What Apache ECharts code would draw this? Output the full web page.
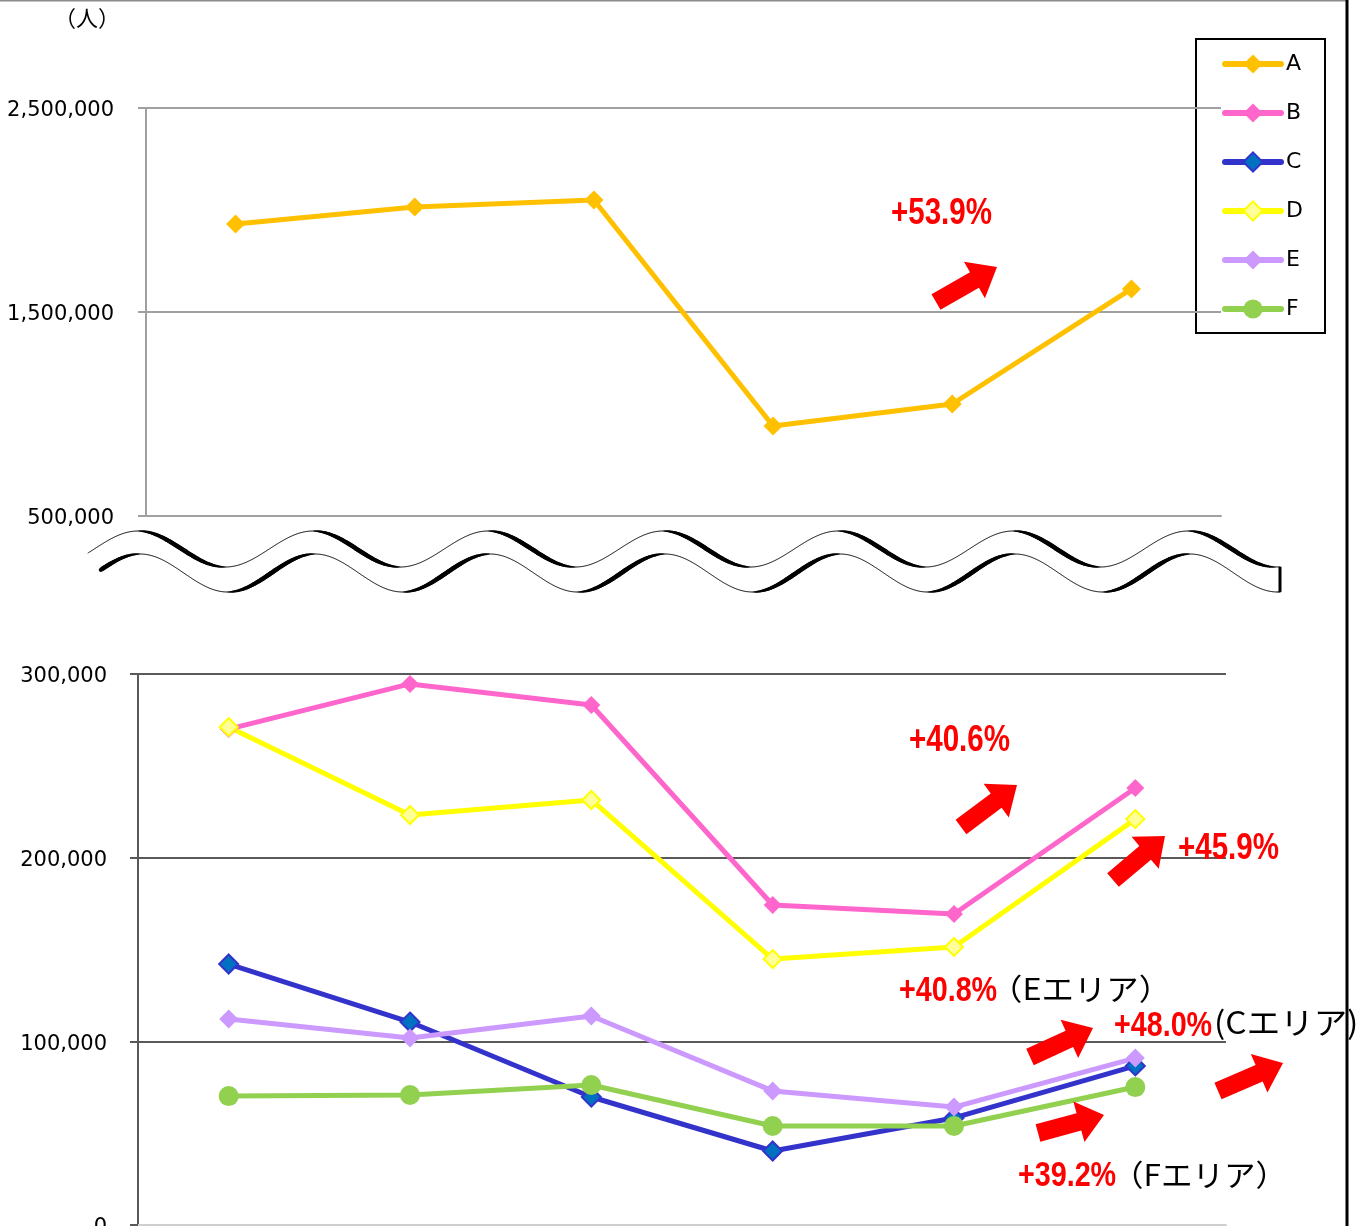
<!DOCTYPE html>
<html><head><meta charset="utf-8">
<script src="https://cdn.jsdelivr.net/npm/echarts@6/dist/echarts.min.js"></script>
<style>html,body{margin:0;padding:0;background:#fff;overflow:hidden}#c{width:1365px;height:1226px}</style>
</head><body><div id="c"></div>
<script>
// ---- data ----
const categories = ['1', '2', '3', '4', '5', '6'];
const seriesNames = ['A', 'B', 'C', 'D', 'E', 'F'];
const valuesA = [1931000, 2015000, 2049000, 941000, 1049000, 1613000];
const valuesB = [270000, 294600, 283100, 174200, 169300, 237900];
const valuesC = [142100, 110500, 69700, 40300, 58300, 86600];
const valuesD = [271100, 223200, 231400, 144800, 151400, 221000];
const valuesE = [112200, 101800, 113800, 73000, 64200, 90900];
const valuesF = [70200, 70800, 76200, 53900, 53900, 75100];
const topAxisRange = [500000, 2500000, 1000000];
const bottomAxisRange = [0, 300000, 100000];
const unitLabel = '（人）';
const changeLabels = ['+53.9%', '+40.6%', '+45.9%', '+40.8%', '+48.0%', '+39.2%'];
const areaLabels = ['（Eエリア）', '(Cエリア)', '（Fエリア）'];

// ---- chart ----
const chart = echarts.init(document.getElementById('c'), null, {renderer: 'canvas'});
const fmt = v => '{v|' + Number(v).toLocaleString('en-US') + '}';
const labelFont = {fontFamily: 'DejaVu Sans', fontSize: 21, color: '#000',
  rich: {v: {fontFamily: 'DejaVu Sans', fontSize: 21, color: '#000', lineHeight: 21, padding: [6, 0, 0, 0]}}};

function waveSegments(xStart, xEnd, base, amp, peakX, thickWhenDown) {
  const P = 175, out = [];
  const f = x => base - amp * Math.cos(2 * Math.PI * (x - peakX) / P);
  for (let x = xStart; x < xEnd; x += 2) {
    const xb = Math.min(x + 2, xEnd);
    const s = Math.sin(2 * Math.PI * ((x + xb) / 2 - peakX) / P);
    const k = thickWhenDown ? Math.max(0, s) : Math.max(0, -s);
    const w = 0.7 + 3.8 * Math.pow(k, 0.7);
    out.push({type: 'line', silent: true, shape: {x1: x, y1: f(x), x2: xb, y2: f(xb)},
      style: {stroke: '#000', lineWidth: w, lineCap: 'round'}});
  }
  return {els: out, f};
}
function arrow(tail, tip) {
  const sw = 18, hw = 42, hl = 26;
  const dx = tip[0] - tail[0], dy = tip[1] - tail[1], L = Math.hypot(dx, dy);
  const ux = dx / L, uy = dy / L, nx = -uy, ny = ux;
  const neck = [tip[0] - ux * hl, tip[1] - uy * hl];
  const p = (b, s) => [b[0] + nx * s, b[1] + ny * s];
  return {type: 'polygon', silent: true, z: 50,
    shape: {points: [p(tail, sw / 2), p(neck, sw / 2), p(neck, hw / 2), tip, p(neck, -hw / 2), p(neck, -sw / 2), p(tail, -sw / 2)]},
    style: {fill: '#FF0000'}};
}
function redText(t, x, y, size) {
  return {type: 'text', x: x, y: y, scaleX: 0.82, z: 60, silent: true,
    style: {text: t, fill: '#FF0000', font: 'bold ' + size + 'px "Liberation Sans", Arial, sans-serif',
      textAlign: 'left', textVerticalAlign: 'middle'}};
}
function blackText(t, x, y, sx, size) {
  return {type: 'text', x: x, y: y, scaleX: sx, z: 60, silent: true,
    style: {text: t, fill: '#000', font: size + 'px "Noto Sans CJK JP", sans-serif',
      textAlign: 'left', textVerticalAlign: 'middle'}};
}

const topWave = waveSegments(88, 1280, 549, 18, 138, true);
const botWave = waveSegments(101, 1280, 573, 19, 140, false);

const graphics = [].concat(topWave.els, botWave.els, [
  {type: 'line', silent: true, shape: {x1: 1280, y1: topWave.f(1280), x2: 1280, y2: botWave.f(1280)}, style: {stroke: '#000', lineWidth: 3}},
  {type: 'line', silent: true, shape: {x1: 0, y1: 0.5, x2: 1347, y2: 0.5}, style: {stroke: '#8c8c8c', lineWidth: 2}},
  {type: 'line', silent: true, shape: {x1: 1347, y1: 0, x2: 1347, y2: 1226}, style: {stroke: '#000', lineWidth: 3}},
  {type: 'rect', silent: true, shape: {x: 1196, y: 39, width: 129, height: 294}, style: {fill: 'none', stroke: '#000', lineWidth: 2}},
  {type: 'text', silent: true, x: 87, y: 18, style: {text: unitLabel, fill: '#000', font: '22px "Noto Sans CJK JP", sans-serif', textAlign: 'center', textVerticalAlign: 'middle'}},
  arrow([936, 302], [997, 267]),
  arrow([961, 827], [1017, 785]),
  arrow([1113, 880], [1165, 836]),
  arrow([1030, 1057], [1093, 1028]),
  arrow([1218, 1091], [1283, 1063]),
  arrow([1038, 1133], [1104, 1115]),
  redText(changeLabels[0], 891, 214, 36),
  redText(changeLabels[1], 909, 741, 36),
  redText(changeLabels[2], 1178, 849, 36),
  redText(changeLabels[3], 899, 991, 35),
  redText(changeLabels[4], 1114, 1026, 35),
  redText(changeLabels[5], 1018, 1176, 35),
  blackText(areaLabels[0], 990, 989, 1.08, 30),
  blackText(areaLabels[1], 1214, 1022, 1.08, 31),
  blackText(areaLabels[2], 1112, 1175, 1.05, 30)
]);

function lineSeries(name, data, gridIdx, color, width, symbol, size, fill, border) {
  return {
    name, type: 'line', xAxisIndex: gridIdx, yAxisIndex: gridIdx, data,
    symbol, symbolSize: size, showSymbol: true, animation: false,
    lineStyle: {color, width},
    itemStyle: {color: fill || color, borderColor: border || color, borderWidth: border ? 2 : 0},
    emphasis: {disabled: true}
  };
}

const option = {
  animation: false,
  backgroundColor: '#fff',
  grid: [
    {left: 146, top: 108, width: 1075, height: 408, outerBoundsMode: 'none', containLabel: false},
    {left: 138, top: 674, width: 1088, height: 551, outerBoundsMode: 'none', containLabel: false}
  ],
  xAxis: [
    {gridIndex: 0, type: 'category', data: categories, boundaryGap: true,
      axisLine: {show: true, lineStyle: {color: '#a0a0a0', width: 2}}, axisTick: {show: false}, axisLabel: {show: false}, splitLine: {show: false}},
    {gridIndex: 1, type: 'category', data: categories, boundaryGap: true,
      axisLine: {show: true, lineStyle: {color: '#cfcfcf', width: 2}}, axisTick: {show: false}, axisLabel: {show: false}, splitLine: {show: false}}
  ],
  yAxis: [
    {gridIndex: 0, type: 'value', min: topAxisRange[0], max: topAxisRange[1], interval: topAxisRange[2],
      axisLine: {show: true, lineStyle: {color: '#a0a0a0', width: 2}},
      axisTick: {show: true, length: 8, lineStyle: {color: '#a0a0a0', width: 2}},
      axisLabel: Object.assign({margin: 32, formatter: fmt}, labelFont),
      splitLine: {show: true, lineStyle: {color: '#a0a0a0', width: 2}}},
    {gridIndex: 1, type: 'value', min: bottomAxisRange[0], max: bottomAxisRange[1], interval: bottomAxisRange[2],
      axisLine: {show: true, lineStyle: {color: '#595959', width: 2}},
      axisTick: {show: true, length: 8, lineStyle: {color: '#595959', width: 2}},
      axisLabel: Object.assign({margin: 31, formatter: fmt}, labelFont),
      splitLine: {show: true, lineStyle: {color: ['#cfcfcf', '#595959', '#595959', '#595959'], width: 2}}}
  ],
  legend: {
    orient: 'vertical', left: 1222, top: 52, padding: 0,
    itemWidth: 56, itemHeight: 24, itemGap: 25,
    data: seriesNames,
    selectedMode: false,
    lineStyle: {width: 6, cap: 'round'},
    textStyle: {fontFamily: 'DejaVu Sans', fontSize: 22, lineHeight: 24, color: '#000'}
  },
  series: [
    lineSeries(seriesNames[0], valuesA, 0, '#FFC000', 5, 'diamond', 19),
    lineSeries(seriesNames[1], valuesB, 1, '#FF66CC', 5, 'diamond', 18),
    lineSeries(seriesNames[2], valuesC, 1, '#3333CC', 5, 'diamond', 19, '#0070C0', '#3333CC'),
    lineSeries(seriesNames[3], valuesD, 1, '#FFFF00', 5, 'diamond', 18, '#FFFF99', '#FFFF00'),
    lineSeries(seriesNames[4], valuesE, 1, '#CC99FF', 5, 'diamond', 19),
    lineSeries(seriesNames[5], valuesF, 1, '#92D050', 5, 'circle', 20)
  ],
  graphic: {elements: graphics}
};
chart.setOption(option);
</script>
</body></html>
